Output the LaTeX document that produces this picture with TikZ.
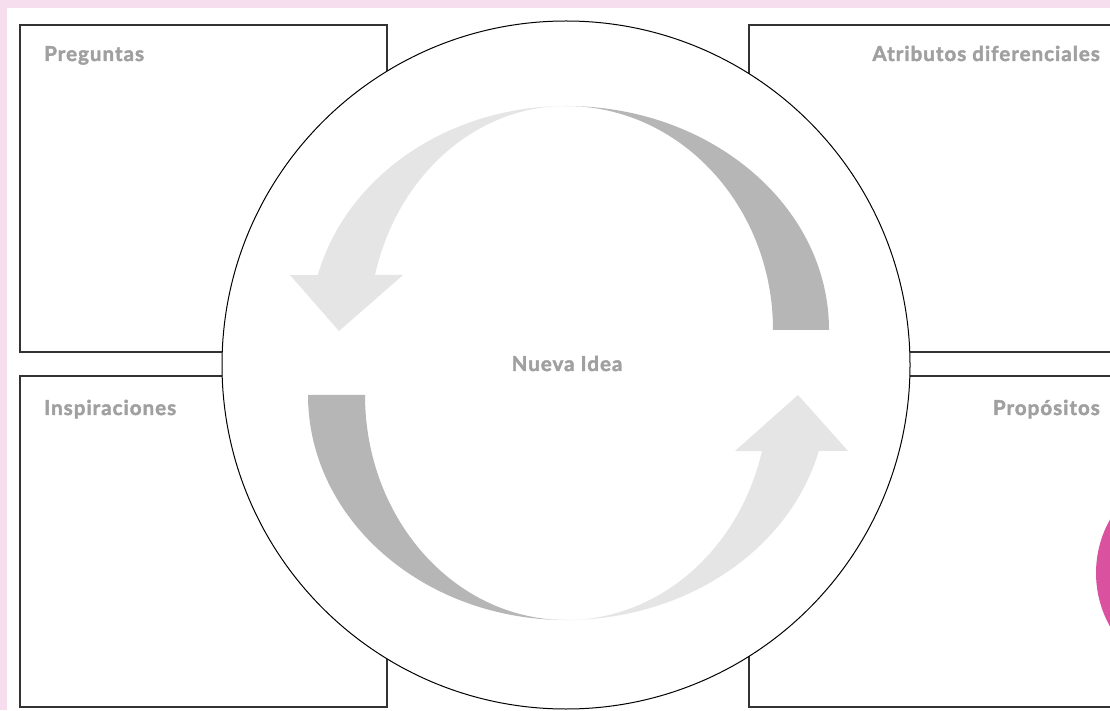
\documentclass[tikz,border=0pt]{standalone}
\usepackage{fontspec}
\setmainfont{Lato}
\newfontfamily\titfont{Lato}[BoldFeatures={FakeBold=2},LetterSpace=5]
\usepackage{tikz}

\definecolor{fondo}{HTML}{F6DEEE}
\definecolor{rosa}{HTML}{D9519F}
\definecolor{gristexto}{HTML}{A0A0A0}
\definecolor{grisosc}{HTML}{B6B6B6}
\definecolor{grisclaro}{HTML}{E5E5E5}
\definecolor{borde}{HTML}{333333}

\tikzset{
  caja/.style={draw=borde,line width=1.3pt},
  titulo/.style={text=gristexto,font=\titfont\fontsize{20.5}{22}\selectfont\bfseries,inner sep=0pt},
  flechaosc/.style={fill=grisosc,draw=none},
  flechaclara/.style={fill=grisclaro,draw=none}
}

\begin{document}
\begin{tikzpicture}[x=1pt,y=1pt]
			\useasboundingbox (0,0) rectangle (1110,710);
			\clip (0,0) rectangle (1110,710);
			\fill[fondo] (0,0) rectangle (1110,710);
			\fill[white] (7,0) rectangle (1110,702);
			% four boxes
			\draw[caja] (20,358) rectangle (387,685);
			\draw[caja] (20,3) rectangle (387,334);
			\draw[caja] (749,358) rectangle (1130,685);
			\draw[caja] (749,3) rectangle (1130,334);
			\fill[rosa] (1205,137) circle (109);
			% big circle in the middle
			\node[circle,draw=black,fill=white,line width=1pt,minimum size=688pt,inner sep=0pt] (idea) at (566,345) {};
			% arrows
			\fill[flechaosc] (566,604) arc[start angle=90,end angle=0,x radius=263,y radius=224]
				-- (773,380) arc[start angle=0,end angle=90,x radius=207,y radius=224] -- cycle;
			\fill[flechaclara] (566,604) arc[start angle=90,end angle=165.8,x radius=256,y radius=224]
				-- (290,435) -- (339,379) -- (403,435) -- (375,435)
				arc[start angle=165.8,end angle=90,x radius=197,y radius=224] -- cycle;
			\fill[flechaosc] (566,90) arc[start angle=270,end angle=180,x radius=258,y radius=225]
				-- (365,315) arc[start angle=180,end angle=270,x radius=201,y radius=225] -- cycle;
			\fill[flechaclara] (566,90) arc[start angle=270,end angle=345.6,x radius=261,y radius=225]
				-- (848,259) -- (798,315) -- (735,259) -- (762,259)
				arc[start angle=345.6,end angle=270,x radius=202,y radius=225] -- cycle;
			% labels
			\node[titulo,anchor=base west] (preg) at (44,649) {Preguntas};
			\node[titulo,anchor=base west] (insp) at (44,295) {Inspiraciones};
			\node[titulo,anchor=base east] (atrib) at (1100,649) {Atributos diferenciales};
			\node[titulo,anchor=base east] (prop) at (1100,295) {Propósitos};
			\node[titulo,anchor=base] (nueva) at (567,339) {Nueva Idea};
		\end{tikzpicture}
\end{document}
